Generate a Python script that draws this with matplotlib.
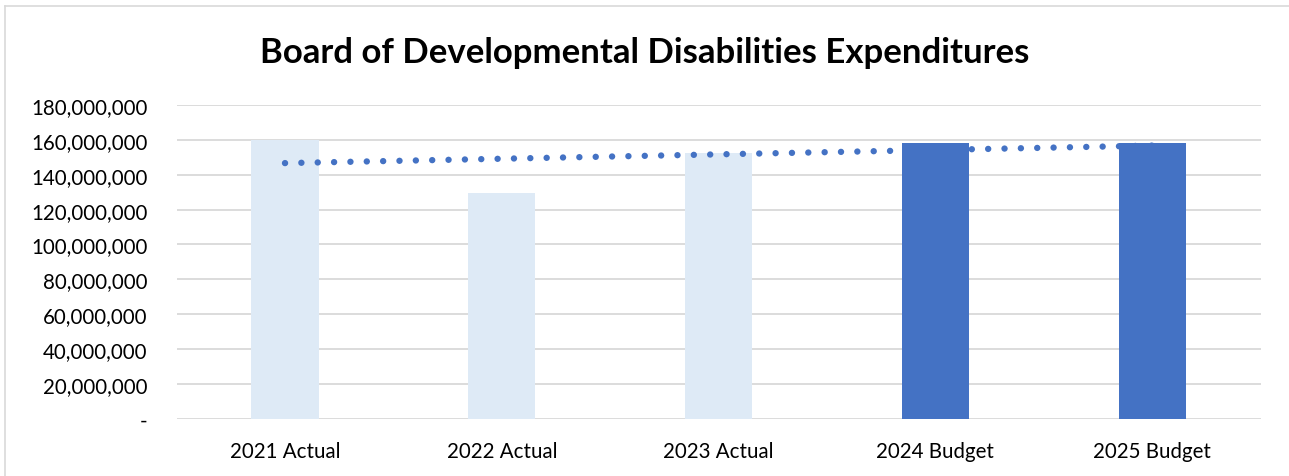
import numpy as np
import matplotlib.pyplot as plt
from matplotlib.ticker import FuncFormatter
from matplotlib.lines import Line2D

categories = ["2021 Actual", "2022 Actual", "2023 Actual", "2024 Budget", "2025 Budget"]
expenditures = [160000000, 129500000, 152400000, 158200000, 158200000]
bar_colors = ["#deeaf6", "#deeaf6", "#deeaf6", "#4472c4", "#4472c4"]
yticks = [0, 20000000, 40000000, 60000000, 80000000, 100000000,
          120000000, 140000000, 160000000, 180000000]

plt.rcParams['font.family'] = ['Lato', 'DejaVu Sans']

fig = plt.figure(figsize=(12.89, 4.77), dpi=100)
ax = fig.add_axes([0.137, 0.1195, 0.841, 0.6585])

x = np.arange(len(categories))
ax.bar(x, expenditures, width=0.31, color=bar_colors, zorder=2)

# linear trendline like excel
coef = np.polyfit(x, expenditures, 1)
trend = np.polyval(coef, x)
ax.plot(x, trend, color="#4472c4", lw=4.6, linestyle=(0, (0.01, 2.55)),
        dash_capstyle='round', zorder=3)

ax.set_xlim(-0.5, len(categories) - 0.5)
ax.set_ylim(0, 180000000)
ax.set_yticks(yticks)
ax.yaxis.set_major_formatter(FuncFormatter(lambda v, p: "-" if v == 0 else "{:,.0f}".format(v)))
ax.set_xticks(x)
ax.set_xticklabels(categories)
ax.grid(axis='y', color="#d9d9d9", lw=1.3, zorder=0)
ax.set_axisbelow(True)
for s in ax.spines.values():
    s.set_visible(False)
ax.tick_params(axis='both', length=0, colors="black")
ax.tick_params(axis='y', pad=21, labelsize=14.8)
ax.tick_params(axis='x', pad=16, labelsize=14.8)

fig.text(0.5, 0.888, "Board of Developmental Disabilities Expenditures",
         ha='center', va='center', fontsize=25, fontweight='bold')

# chart border
fig.add_artist(Line2D([5/1289, 5/1289], [0, 1 - 7/477], color="#d9d9d9", lw=1.2))
fig.add_artist(Line2D([5/1289, 1], [1 - 7/477, 1 - 7/477], color="#d9d9d9", lw=1.2))

fig.savefig("out.png", dpi=100)
